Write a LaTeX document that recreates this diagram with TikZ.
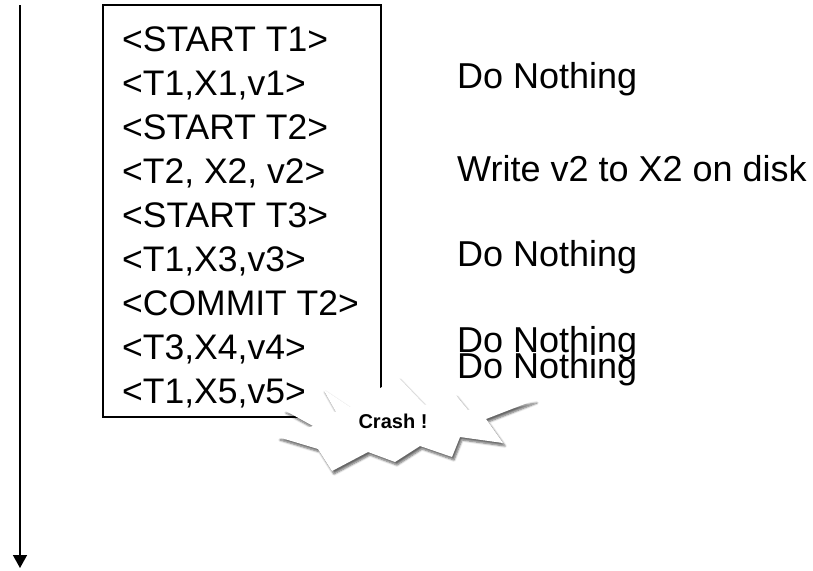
\documentclass[tikz,border=0pt]{standalone}
\usepackage{fontspec}
\setmainfont{Liberation Sans}
\usetikzlibrary{arrows.meta,shadows.blur}
\begin{document}
\begin{tikzpicture}[x=1pt,y=-1pt,
  logline/.style={anchor=base west,inner sep=0pt,font=\fontsize{35.5}{40}\selectfont},
  action/.style={anchor=base west,inner sep=0pt,font=\fontsize{36}{40}\selectfont},
  logbox/.style={draw,line width=1.5pt,minimum width=278pt,minimum height=412pt,inner sep=0pt},
  timeline/.style={line width=1.6pt,-{Triangle[width=14pt,length=13pt]}},
  burst/.style={fill=white,draw=none,blur shadow={shadow xshift=2pt,shadow yshift=-3pt,shadow blur steps=6,shadow opacity=60}}
]
\useasboundingbox (0,0) rectangle (813,570);
% time axis
\coordinate (t0) at (20,5);
\coordinate (t1) at (20,568);
\draw[timeline] (t0) -- (t1);
% log box
\node[logbox] (box) at (242,211) {};
\node[logline] (l1) at (122,51) {<START T1>};
\node[logline] (l2) at (122,95) {<T1,X1,v1>};
\node[logline] (l3) at (122,139) {<START T2>};
\node[logline] (l4) at (122,183) {<T2, X2, v2>};
\node[logline] (l5) at (122,227) {<START T3>};
\node[logline] (l6) at (122,271) {<T1,X3,v3>};
\node[logline] (l7) at (122,315) {<COMMIT T2>};
\node[logline] (l8) at (122,359) {<T3,X4,v4>};
\node[logline] (l9) at (122,403) {<T1,X5,v5>};
% actions
\node[action] (a1) at (457,88) {Do Nothing};
\node[action] (a2) at (457,181) {Write v2 to X2 on disk};
\node[action] (a3) at (457,266) {Do Nothing};
\node[action] (a4) at (457,352) {Do Nothing};
\node[action] (a5) at (457,378) {Do Nothing};
% crash burst
\path[burst] (323,389) -- (350,407) -- (398,377) -- (425,405) -- (455,394) -- (468,410)
  -- (535,400) -- (486,419) -- (503,443) -- (460,437) -- (452,457) -- (420,446)
  -- (395,462) -- (368,452) -- (332,471) -- (318,449) -- (278,437) -- (313,426)
  -- (284,410) -- (336,412) -- cycle;
\node[font=\bfseries\fontsize{20}{24}\selectfont] (crash) at (393,421) {Crash !};
\end{tikzpicture}
\end{document}
